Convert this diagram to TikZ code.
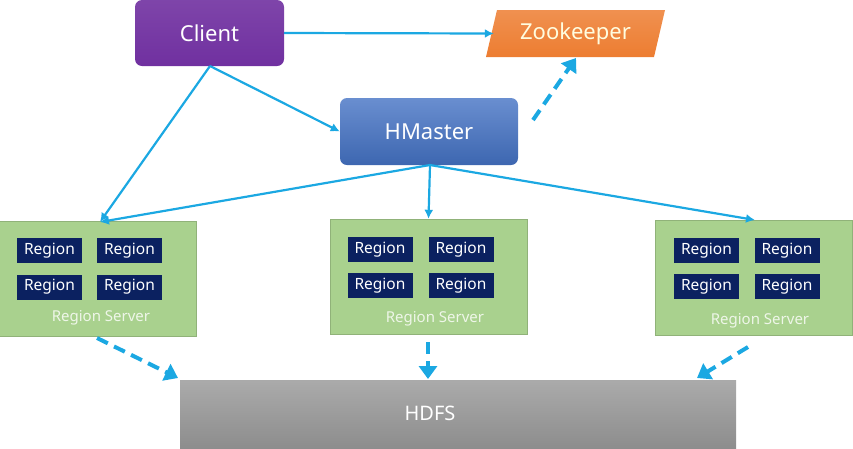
\documentclass[tikz,border=0pt]{standalone}
\usepackage{fontspec}
\setmainfont{Noto Sans}
\usetikzlibrary{arrows.meta,shapes.geometric}
\definecolor{cpurple}{HTML}{7030A0}
\definecolor{corange}{HTML}{ED7D31}
\definecolor{cblue}{HTML}{4472C4}
\definecolor{cgreen}{HTML}{A9D18E}
\definecolor{cnavy}{HTML}{0B2160}
\definecolor{carrow}{HTML}{1BA8E2}
\definecolor{cgray}{HTML}{A6A6A6}
\tikzset{
  box/.style={draw=none, text=white, inner sep=0pt},
  regionbox/.style={fill=cnavy, text=white, minimum width=65pt, minimum height=25pt, font=\fontsize{15.5}{15.5}\selectfont, inner sep=0pt},
  rsbox/.style={fill=cgreen, draw=cgreen!85!black, line width=0.4pt, minimum width=197pt, minimum height=115pt, inner sep=0pt},
  rslabel/.style={text=white!80!cgreen, font=\fontsize{15}{15}\selectfont},
  conn/.style={draw=carrow, line width=2.2pt, -{Latex[length=9pt,width=9pt]}},
  dconn/.style={draw=carrow, line width=4pt, dash pattern=on 12pt off 7pt, -{Triangle[length=13pt,width=18pt]}},
}
\begin{document}
\begin{tikzpicture}[x=1pt,y=-1pt]
\useasboundingbox (0,0) rectangle (853,448);
% Client
\node[box, rounded corners=7pt, top color=cpurple!90!white, bottom color=cpurple, minimum width=149pt, minimum height=66pt, font=\fontsize{22}{22}\selectfont] (client) at (209.5,33) {Client};
% Zookeeper (parallelogram)
\shade[top color=corange!85!white, bottom color=corange] (497,10) -- (665,10) -- (654,57) -- (486,57) -- cycle;
\node[box, minimum width=163pt, minimum height=47pt, font=\fontsize{22}{22}\selectfont, text=white!88!yellow] (zk) at (575.5,33.5) {Zookeeper};
% HMaster
\node[box, rounded corners=7pt, top color=cblue!80!white, bottom color=cblue!90!black, minimum width=178pt, minimum height=67pt, font=\fontsize{22}{22}\selectfont] (hm) at (429,131.5) {HMaster};
% Region servers
\node[rsbox] (rs1) at (98,278.5) {};
\node[rsbox] (rs2) at (428.5,276.5) {};
\node[rsbox] (rs3) at (754,277.5) {};
% regions left
\node[regionbox] (r11) at (49.5,250.5) {Region};
\node[regionbox] (r12) at (129.5,250.5) {Region};
\node[regionbox] (r13) at (49.5,287) {Region};
\node[regionbox] (r14) at (129.5,287) {Region};
\node[rslabel] (l1) at (101,318) {Region Server};
% regions middle
\node[regionbox] (r21) at (380,249.5) {Region};
\node[regionbox] (r22) at (461,249.5) {Region};
\node[regionbox] (r23) at (380,285.5) {Region};
\node[regionbox] (r24) at (461,285.5) {Region};
\node[rslabel] (l2) at (435,319) {Region Server};
% regions right
\node[regionbox] (r31) at (706.5,250.5) {Region};
\node[regionbox] (r32) at (787,250.5) {Region};
\node[regionbox] (r33) at (706.5,286.5) {Region};
\node[regionbox] (r34) at (787,286.5) {Region};
\node[rslabel] (l3) at (760,321) {Region Server};
% HDFS
\node[box, top color=cgray!95!white, bottom color=cgray!85!black, minimum width=556pt, minimum height=68pt] (hdfs) at (458,414) {};
\node[text=white, font=\fontsize{20}{20}\selectfont] (hdfst) at (430,413) {HDFS};
% anchor coordinates
\coordinate (cb) at (210,66);
\coordinate (hb) at (430,165);
\coordinate (rs1t) at (100,222);
\coordinate (rs3t) at (755,220);
% solid connectors
\draw[conn] (client.east) -- (zk.west);
\draw[conn] (cb) -- (hm.west);
\draw[conn] (cb) -- (rs1t);
\draw[conn] (hb) -- (rs1t);
\draw[conn] (hb) -- (rs2.north);
\draw[conn] (hb) -- (rs3t);
% dashed connectors
\coordinate (hmz) at (533,120);
\coordinate (zkb) at (576,58);
\draw[dconn] (hmz) -- (zkb);
\coordinate (d1s) at (97,338);
\coordinate (d1e) at (178,378);
\draw[dconn] (d1s) -- (d1e);
\coordinate (d2s) at (428,342);
\coordinate (d2e) at (428,379);
\draw[dconn] (d2s) -- (d2e);
\coordinate (d3s) at (748,347);
\coordinate (d3e) at (697,378);
\draw[dconn] (d3s) -- (d3e);
\end{tikzpicture}
\end{document}
